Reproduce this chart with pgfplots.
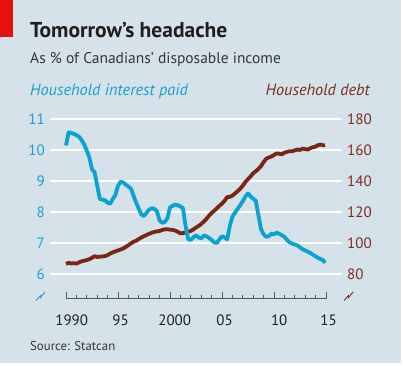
\documentclass[border=0pt]{standalone}
\usepackage{pgfplots}
\pgfplotsset{compat=1.18}
\usepackage{fontspec}
\setmainfont{PT Sans}
\definecolor{bg}{HTML}{D5E2EA}
\definecolor{ecoblue}{HTML}{0BA1D1}
\definecolor{ecobrown}{HTML}{7A2616}
\definecolor{bluetxt}{HTML}{1A9FCF}
\definecolor{browntxt}{HTML}{7E2C1C}
\definecolor{txt}{HTML}{1E1E1E}
\definecolor{redbox}{HTML}{E3120B}

\pgfplotstableread{
x y
1990.00 10.15
1990.25 10.57
1990.50 10.55
1990.75 10.52
1991.00 10.48
1991.25 10.43
1991.50 10.32
1991.75 10.18
1992.00 9.98
1992.25 9.75
1992.50 9.38
1992.75 9.28
1993.00 8.85
1993.25 8.42
1993.50 8.40
1993.75 8.38
1994.00 8.30
1994.25 8.27
1994.50 8.42
1994.75 8.55
1995.00 8.85
1995.25 8.98
1995.50 8.95
1995.75 8.88
1996.00 8.82
1996.25 8.75
1996.50 8.52
1996.75 8.30
1997.00 8.10
1997.25 7.92
1997.50 7.87
1997.75 7.98
1998.00 8.08
1998.25 8.12
1998.50 8.10
1998.75 8.02
1999.00 7.72
1999.25 7.65
1999.50 7.68
1999.75 7.80
2000.00 8.15
2000.25 8.20
2000.50 8.24
2000.75 8.22
2001.00 8.18
2001.25 8.12
2001.50 7.55
2001.75 7.12
2002.00 7.10
2002.25 7.18
2002.50 7.25
2002.75 7.18
2003.00 7.15
2003.25 7.24
2003.50 7.22
2003.75 7.16
2004.00 7.10
2004.25 7.02
2004.50 7.00
2004.75 7.12
2005.00 7.22
2005.25 7.18
2005.50 7.12
2005.75 7.55
2006.00 7.85
2006.25 7.98
2006.50 8.10
2006.75 8.22
2007.00 8.35
2007.25 8.50
2007.50 8.60
2007.75 8.50
2008.00 8.43
2008.25 8.36
2008.50 7.90
2008.75 7.45
2009.00 7.28
2009.25 7.20
2009.50 7.22
2009.75 7.30
2010.00 7.28
2010.25 7.33
2010.50 7.30
2010.75 7.25
2011.00 7.20
2011.25 7.10
2011.50 7.02
2011.75 6.98
2012.00 6.95
2012.25 6.92
2012.50 6.86
2012.75 6.80
2013.00 6.76
2013.25 6.72
2013.50 6.68
2013.75 6.62
2014.00 6.57
2014.25 6.52
2014.50 6.48
2014.75 6.44
2014.90 6.36
}\interest

\pgfplotstableread{
x y
1990.00 86.5
1990.25 87.2
1990.50 86.8
1990.75 87.0
1991.00 86.7
1991.25 87.5
1991.50 88.2
1991.75 88.6
1992.00 89.0
1992.25 89.6
1992.50 90.5
1992.75 91.5
1993.00 91.0
1993.25 91.2
1993.50 91.3
1993.75 91.6
1994.00 92.2
1994.25 93.2
1994.50 94.0
1994.75 94.6
1995.00 95.2
1995.25 95.8
1995.50 96.5
1995.75 97.5
1996.00 98.6
1996.25 99.8
1996.50 100.8
1996.75 101.5
1997.00 102.6
1997.25 103.6
1997.50 104.4
1997.75 105.2
1998.00 106.0
1998.25 106.6
1998.50 107.2
1998.75 107.5
1999.00 107.8
1999.25 108.4
1999.50 108.8
1999.75 108.9
2000.00 108.6
2000.25 108.5
2000.50 108.0
2000.75 107.2
2001.00 106.3
2001.25 106.4
2001.50 106.8
2001.75 107.3
2002.00 107.8
2002.25 108.8
2002.50 110.0
2002.75 111.0
2003.00 112.3
2003.25 113.8
2003.50 115.5
2003.75 117.6
2004.00 119.4
2004.25 120.8
2004.50 122.4
2004.75 124.0
2005.00 125.4
2005.25 127.3
2005.50 129.6
2005.75 129.8
2006.00 130.6
2006.25 132.0
2006.50 133.4
2006.75 135.0
2007.00 137.0
2007.25 139.4
2007.50 141.2
2007.75 143.0
2008.00 145.0
2008.25 146.3
2008.50 147.8
2008.75 149.6
2009.00 152.2
2009.25 154.4
2009.50 155.2
2009.75 155.8
2010.00 156.8
2010.25 157.8
2010.50 157.6
2010.75 157.2
2011.00 158.3
2011.25 158.8
2011.50 159.2
2011.75 159.2
2012.00 159.8
2012.25 160.3
2012.50 160.0
2012.75 160.9
2013.00 160.6
2013.25 160.3
2013.50 161.2
2013.75 161.8
2014.00 162.2
2014.25 163.2
2014.50 163.5
2014.75 163.0
2014.90 163.3
}\debt

\begin{document}
\begin{tikzpicture}[x=1pt,y=1pt]
\useasboundingbox (0,0) rectangle (403,-365);
\fill[bg] (0,0) rectangle (401,-363);
\fill[redbox] (0,0) rectangle (12.5,-37);
\node[anchor=base west, inner sep=0pt, text=txt, font=\fontsize{21.5}{23}\selectfont\bfseries] at (30,-37) {Tomorrow’s headache};
\node[anchor=base west, inner sep=0pt, text=txt!90, font=\fontsize{15.5}{17}\selectfont] at (30,-63) {As \% of Canadians’ disposable income};
\node[anchor=base west, inner sep=0pt, text=bluetxt, font=\fontsize{16.3}{18}\selectfont\itshape] at (30,-95) {Household interest paid};
\node[anchor=base east, inner sep=0pt, text=browntxt, font=\fontsize{16.3}{18}\selectfont\itshape] at (370,-95) {Household debt};
\node[anchor=base west, inner sep=0pt, text=txt!90, font=\fontsize{12.8}{15}\selectfont] at (30,-350) {Source: Statcan};

\begin{axis}[
  at={(50pt,-298.5pt)}, anchor=south west, scale only axis,
  width=292pt, height=179.5pt,
  xmin=1988.46, xmax=2016.54, ymin=64.2, ymax=180,
  axis y line*=right, axis x line*=bottom,
  axis line style={draw=none},
  /pgf/number format/assume math mode=true,
  ytick={80,100,...,180},
  ymajorgrids, grid style={white, line width=1.8pt},
  y tick style={draw=none},
  yticklabel style={text=browntxt, anchor=west, inner sep=0pt, xshift=5pt, font=\fontsize{15}{16}\selectfont},
  xtick={1990,1995,...,2015}, minor xtick={1990,...,2015},
  xticklabels={},
  tick align=inside,
  major tick length=7pt, minor tick length=4pt,
  x tick style={draw=txt!75, line width=0.8pt},
  extra x ticks={1990.55,1995.25,2000.45,2005.25,2010.5,2015.25},
  extra x tick labels={1990,95,2000,05,10,15},
  extra x tick style={major tick length=0pt, xticklabel style={anchor=base, inner sep=0pt, yshift=-26.5pt, text=txt, font=\fontsize{15}{16}\selectfont}},
]
\draw[txt!75, line width=0.8pt] (axis cs:1989.96,64.2) -- (axis cs:2015.04,64.2);
\addplot[ecobrown, line width=3.8pt, line join=round] table[x=x,y=y] {\debt};
\end{axis}

\begin{axis}[
  at={(50pt,-298.5pt)}, anchor=south west, scale only axis,
  width=292pt, height=179.5pt,
  xmin=1988.46, xmax=2016.54, ymin=5.21, ymax=11,
  axis y line*=left, hide x axis,
  axis line style={draw=none},
  /pgf/number format/assume math mode=true,
  ytick={6,...,11},
  y tick style={draw=none},
  yticklabel style={text=bluetxt, anchor=east, inner sep=0pt, xshift=-5pt, font=\fontsize{15}{16}\selectfont},
]
\addplot[ecoblue, line width=3.8pt, line join=round] table[x=x,y=y] {\interest};
\end{axis}

\draw[bluetxt, line width=0.9pt] (36,-300.5) -- (40.5,-295.5) -- (40.5,-297.5) -- (45,-292);
\draw[browntxt, line width=0.9pt] (344,-300.5) -- (348.5,-295.5) -- (348.5,-297.5) -- (353,-292);
\end{tikzpicture}
\end{document}
